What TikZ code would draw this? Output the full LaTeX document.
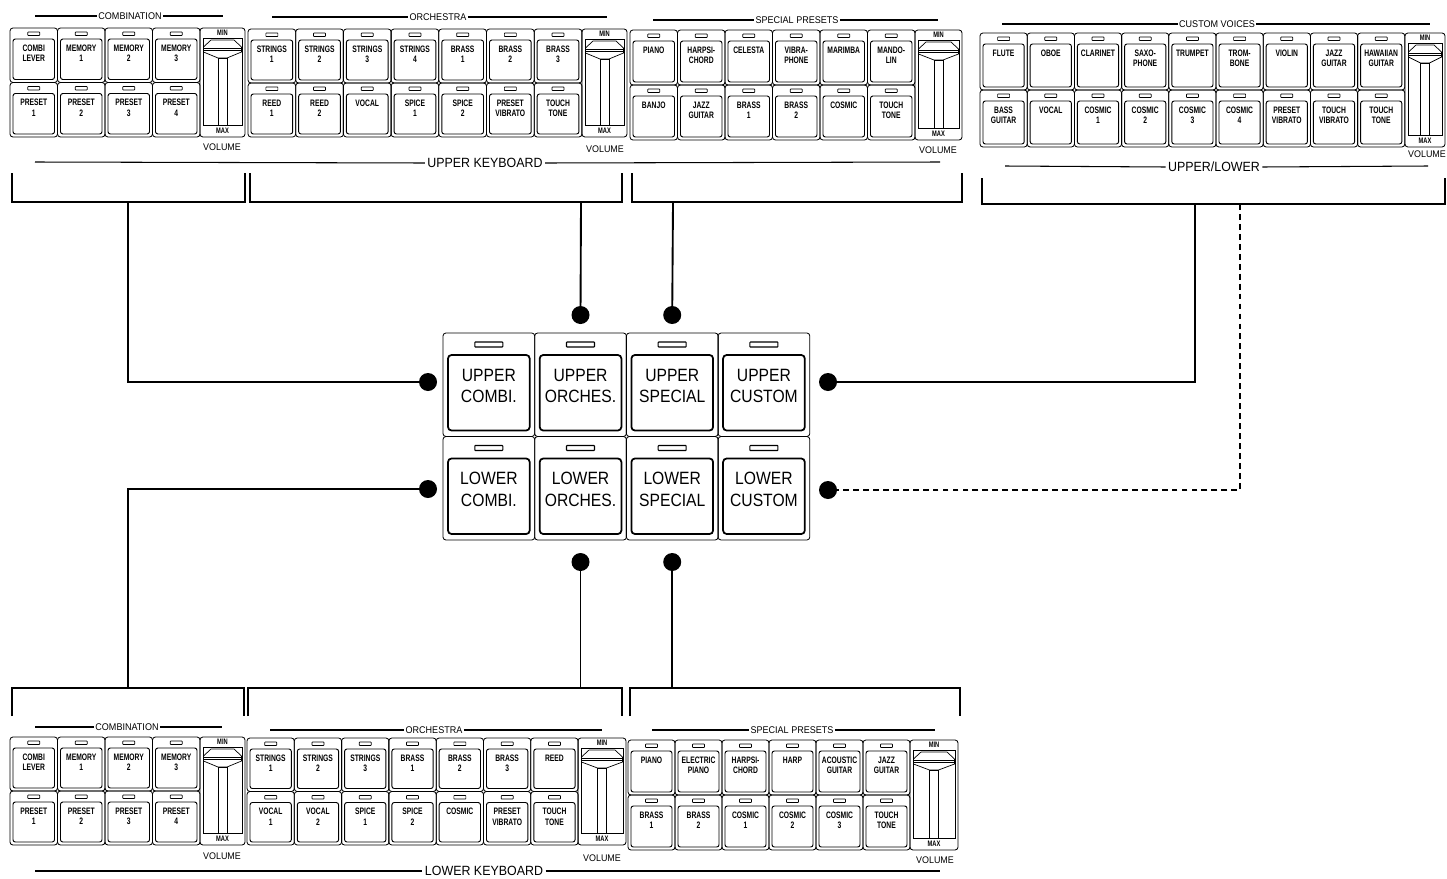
\documentclass[tikz,border=0pt]{standalone}
\usepackage{fontspec}
\setmainfont{Liberation Sans}
\newfontfamily\btnfont[FakeStretch=0.72]{Liberation Sans}
\newfontfamily\bigfont[FakeStretch=0.88]{Liberation Sans}
\newfontfamily\headfont[FakeStretch=0.93]{Liberation Sans}

% one tab button: name, left, top, width, height, label
\newcommand\orgbtn[6]{%
  \begin{scope}[shift={(#2,#3)}]
    \draw[btnframe] (0,0) rectangle (#4,#5);
    \draw[led] ({#4/2-6},4) rectangle ({#4/2+6},7.5);
    \draw[btnface] (3,11) rectangle ({#4-3},{#5-3});
    \node[btnlabel] (#1) at ({#4/2},16.5) {#6};
  \end{scope}}

% a row of buttons
\newcommand\btnrow[6]{%
  \foreach \lab [count=\i from 0] in {#6}{
    \orgbtn{#1\i}{#2+\i*#4}{#3}{#4}{#5}{\lab}}}

% volume slider: name, left, top, width, height
\newcommand\volslider[5]{%
  \begin{scope}[shift={(#2,#3)}]
    \draw[btnframe] (0,0) rectangle (#4,#5);
    \node[sliderlabel] (#1-min) at ({#4/2},5) {MIN};
    \draw[line width=0.6pt] (3,10) rectangle ({#4-3},{#5-12});
    \node[sliderlabel] (#1-max) at ({#4/2},{#5-6}) {MAX};
    \draw[line width=0.6pt] (3.5,19) -- (11,12) -- ({#4-11},12) -- ({#4-3.5},19)
      -- ({#4-3.5},24) -- ({#4/2+4.5},30) -- ({#4/2-4.5},30) -- (3.5,24) -- cycle;
    \draw[line width=0.6pt] (3.5,20.5) -- ({#4-3.5},20.5) (3.5,22.5) -- ({#4-3.5},22.5);
    \draw[line width=0.6pt] ({#4/2-4.5},30) rectangle ({#4/2+4.5},{#5-12});
  \end{scope}}

% big centre button: name, left, top, label
\newcommand\bigbtn[4]{%
  \begin{scope}[shift={(#2,#3)}]
    \draw[btnframe] (0,0) rectangle (91.7,103.5);
    \draw[led, line width=0.9pt] (31.8,9) rectangle (59.8,14);
    \draw[bigface] (5,22) rectangle (86.7,97.5);
    \node[biglabel] (#1) at (45.85,53) {#4};
  \end{scope}}

\begin{document}
\begin{tikzpicture}[x=0.3mm, y=-0.3mm,
    btnframe/.style={line width=0.7pt, rounded corners=2.5pt},
    btnface/.style={line width=0.8pt, rounded corners=2pt},
    bigface/.style={line width=1.5pt, rounded corners=3pt},
    led/.style={line width=0.6pt, rounded corners=0.5pt},
    btnlabel/.style={anchor=north, align=center, inner sep=0pt,
      font=\btnfont\bfseries\fontsize{8}{9}\selectfont},
    biglabel/.style={align=center, inner sep=0pt,
      font=\bigfont\fontsize{15.2}{18.2}\selectfont},
    sliderlabel/.style={inner sep=0pt, font=\btnfont\bfseries\fontsize{6.8}{7}\selectfont},
    voltext/.style={inner sep=0pt, font=\headfont\fontsize{8.2}{9}\selectfont},
    grouphead/.style={inner sep=1pt, font=\headfont\fontsize{8.3}{9}\selectfont},
    kbdhead/.style={inner sep=2pt, font=\headfont\fontsize{11.4}{13}\selectfont},
    headline/.style={line width=0.9pt},
    bracket/.style={line width=1.6pt},
    link/.style={line width=1.6pt},
    dot/.style={circle, fill=black, inner sep=0pt, minimum size=5.4mm}]

\useasboundingbox (0,0) rectangle (1447,878);

% ---------- upper keyboard ----------
\btnrow{ucm-a}{10}{28}{47.5}{54.5}{{COMBI\\LEVER},{MEMORY\\1},{MEMORY\\2},{MEMORY\\3}}
\btnrow{ucm-b}{10}{82.5}{47.5}{54.5}{{PRESET\\1},{PRESET\\2},{PRESET\\3},{PRESET\\4}}
\volslider{uvol-cm}{200}{28}{45}{109}

\btnrow{uor-a}{248}{29}{47.7}{54}{{STRINGS\\1},{STRINGS\\2},{STRINGS\\3},{STRINGS\\4},{BRASS\\1},{BRASS\\2},{BRASS\\3}}
\btnrow{uor-b}{248}{83}{47.7}{54}{{REED\\1},{REED\\2},VOCAL,{SPICE\\1},{SPICE\\2},{PRESET\\VIBRATO},{TOUCH\\TONE}}
\volslider{uvol-or}{582}{29}{45}{108}

\btnrow{usp-a}{630}{30}{47.5}{55}{PIANO,{HARPSI-\\CHORD},CELESTA,{VIBRA-\\PHONE},MARIMBA,{MANDO-\\LIN}}
\btnrow{usp-b}{630}{85}{47.5}{55}{BANJO,{JAZZ\\GUITAR},{BRASS\\1},{BRASS\\2},COSMIC,{TOUCH\\TONE}}
\volslider{uvol-sp}{915}{30}{47}{110}

\btnrow{ucu-a}{980}{33}{47.2}{57}{FLUTE,OBOE,CLARINET,{SAXO-\\PHONE},TRUMPET,{TROM-\\BONE},VIOLIN,{JAZZ\\GUITAR},{HAWAIIAN\\GUITAR}}
\btnrow{ucu-b}{980}{90}{47.2}{57}{{BASS\\GUITAR},VOCAL,{COSMIC\\1},{COSMIC\\2},{COSMIC\\3},{COSMIC\\4},{PRESET\\VIBRATO},{TOUCH\\VIBRATO},{TOUCH\\TONE}}
\volslider{uvol-cu}{1405}{33}{40}{114}

\node[voltext] (uv1) at (222,147) {VOLUME};
\node[voltext] (uv2) at (605,149) {VOLUME};
\node[voltext] (uv3) at (938,150) {VOLUME};
\node[voltext] (uv4) at (1427,154) {VOLUME};

\node[grouphead] (uh1) at (130,16) {COMBINATION};
\draw[headline] (35,16) -- (uh1.west) (uh1.east) -- (223,16);
\node[grouphead] (uh2) at (438,17) {ORCHESTRA};
\draw[headline] (272,17) -- (uh2.west) (uh2.east) -- (607,17);
\node[grouphead] (uh3) at (797,20) {SPECIAL PRESETS};
\draw[headline] (653,20) -- (uh3.west) (uh3.east) -- (938,20);
\node[grouphead] (uh4) at (1217,24) {CUSTOM VOICES};
\draw[headline] (1002,24) -- (uh4.west) (uh4.east) -- (1430,24);

\node[kbdhead] (ukbd) at (485,163) {UPPER KEYBOARD};
\draw[headline] (35,162) -- (ukbd.west) (ukbd.east) -- (940,162);
\node[kbdhead] (ulow) at (1214,167) {UPPER/LOWER};
\draw[headline] (1005,166) -- (ulow.west) (ulow.east) -- (1428,166);

% brackets
\draw[bracket] (12,173) -- (12,202) -- (245,202) -- (245,173);
\draw[bracket] (250,173) -- (250,202) -- (622,202) -- (622,173);
\draw[bracket] (632,173) -- (632,202) -- (962,202) -- (962,173);
\draw[bracket] (982,178) -- (982,204) -- (1445,204) -- (1445,178);
\coordinate (ub1) at (128,202);
\coordinate (ub2) at (581,202);
\coordinate (ub3) at (673,202);
\coordinate (ub4) at (1195,204);
\coordinate (ub4d) at (1240,204);

% ---------- centre selectors ----------
\bigbtn{ucombi}{443}{333}{UPPER\\COMBI.}
\bigbtn{uorch}{534.7}{333}{UPPER\\ORCHES.}
\bigbtn{uspec}{626.4}{333}{UPPER\\SPECIAL}
\bigbtn{ucust}{718.1}{333}{UPPER\\CUSTOM}
\bigbtn{lcombi}{443}{436.5}{LOWER\\COMBI.}
\bigbtn{lorch}{534.7}{436.5}{LOWER\\ORCHES.}
\bigbtn{lspec}{626.4}{436.5}{LOWER\\SPECIAL}
\bigbtn{lcust}{718.1}{436.5}{LOWER\\CUSTOM}

\node[dot] (d-ucombi) at (428,382) {};
\node[dot] (d-uorch) at (580.5,315) {};
\node[dot] (d-uspec) at (672.2,315) {};
\node[dot] (d-ucust) at (828,382) {};
\node[dot] (d-lcombi) at (428,489) {};
\node[dot] (d-lorch) at (580.5,562) {};
\node[dot] (d-lspec) at (672.2,562) {};
\node[dot] (d-lcust) at (828,490) {};

% ---------- lower keyboard ----------
\coordinate (lb1) at (128,688);
\coordinate (lb2) at (580.5,688);
\coordinate (lb3) at (672.2,688);
\draw[bracket] (12,716) -- (12,688) -- (244,688) -- (244,716);
\draw[bracket] (248,716) -- (248,688) -- (622,688) -- (622,716);
\draw[bracket] (630,716) -- (630,688) -- (960,688) -- (960,716);

\btnrow{lcm-a}{10}{737}{47.5}{54}{{COMBI\\LEVER},{MEMORY\\1},{MEMORY\\2},{MEMORY\\3}}
\btnrow{lcm-b}{10}{791}{47.5}{54}{{PRESET\\1},{PRESET\\2},{PRESET\\3},{PRESET\\4}}
\volslider{lvol-cm}{200}{737}{45}{108}

\btnrow{lor-a}{247}{738}{47.3}{53.5}{{STRINGS\\1},{STRINGS\\2},{STRINGS\\3},{BRASS\\1},{BRASS\\2},{BRASS\\3},REED}
\btnrow{lor-b}{247}{791.5}{47.3}{53.5}{{VOCAL\\1},{VOCAL\\2},{SPICE\\1},{SPICE\\2},COSMIC,{PRESET\\VIBRATO},{TOUCH\\TONE}}
\volslider{lvol-or}{578}{738}{48}{107}

\btnrow{lsp-a}{628}{740}{47}{55}{PIANO,{ELECTRIC\\PIANO},{HARPSI-\\CHORD},HARP,{ACOUSTIC\\GUITAR},{JAZZ\\GUITAR}}
\btnrow{lsp-b}{628}{795}{47}{55}{{BRASS\\1},{BRASS\\2},{COSMIC\\1},{COSMIC\\2},{COSMIC\\3},{TOUCH\\TONE}}
\volslider{lvol-sp}{910}{740}{48}{110}

\node[voltext] (lv1) at (222,856) {VOLUME};
\node[voltext] (lv2) at (602,858) {VOLUME};
\node[voltext] (lv3) at (935,860) {VOLUME};

\node[grouphead] (lh1) at (127,727) {COMBINATION};
\draw[headline] (35,727) -- (lh1.west) (lh1.east) -- (222,727);
\node[grouphead] (lh2) at (434,730) {ORCHESTRA};
\draw[headline] (270,730) -- (lh2.west) (lh2.east) -- (602,730);
\node[grouphead] (lh3) at (792,730) {SPECIAL PRESETS};
\draw[headline] (652,730) -- (lh3.west) (lh3.east) -- (935,730);

\node[kbdhead] (lkbd) at (484,871) {LOWER KEYBOARD};
\draw[headline] (35,871) -- (lkbd.west) (lkbd.east) -- (940,871);

% ---------- connectors ----------
\draw[link] (ub1) |- (d-ucombi);
\draw[link] (ub2) -- (d-uorch);
\draw[link] (ub3) -- (d-uspec);
\draw[link] (ub4) |- (d-ucust);
\draw[link, dash pattern=on 5pt off 3.5pt] (ub4d) |- (d-lcust);
\draw[link] (d-lcombi) -| (lb1);
\draw[link] (d-lorch) -- (lb2);
\draw[link] (d-lspec) -- (lb3);

\end{tikzpicture}
\end{document}
